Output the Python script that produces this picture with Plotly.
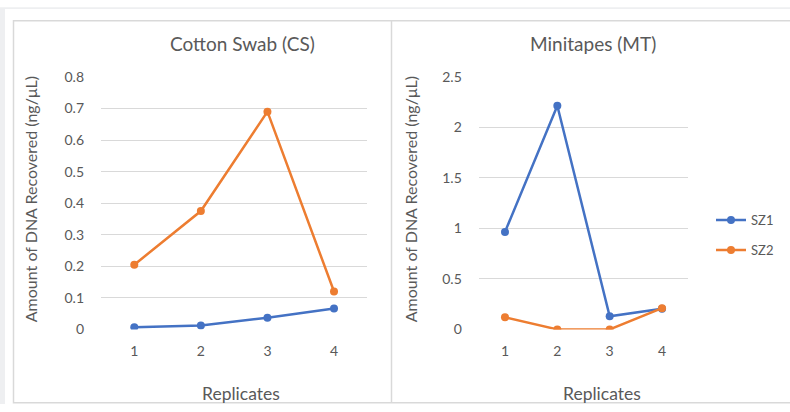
import plotly.graph_objects as go

W, H = 790, 412

replicates = [1, 2, 3, 4]
tick_labels = ["1", "2", "3", "4"]
series_names = ["SZ1", "SZ2"]

cs_sz1 = [0.007, 0.012, 0.037, 0.066]
cs_sz2 = [0.205, 0.375, 0.69, 0.12]
mt_sz1 = [0.965, 2.215, 0.13, 0.205]
mt_sz2 = [0.12, 0.0, 0.0, 0.21]

titles = ["Cotton Swab (CS)", "Minitapes (MT)"]
x_title = "Replicates"
y_title = "Amount of DNA Recovered (ng/μL)"

BLUE = "#4472C4"
ORANGE = "#ED7D31"
TXT = "#595959"
FONT = "Lato"

# the photographed page is slightly compressed vertically; map target pixel rows
V_OFF, V_SCALE = 6.65, 0.9646


def px(x):
    return x / W


def py(y):
    yi = (y - V_OFF) / V_SCALE
    return 1 - yi / H


fig = go.Figure()

for i, (s1, s2) in enumerate([(cs_sz1, cs_sz2), (mt_sz1, mt_sz2)]):
    xa = "x" if i == 0 else "x2"
    ya = "y" if i == 0 else "y2"
    for name, vals, col in [(series_names[0], s1, BLUE), (series_names[1], s2, ORANGE)]:
        fig.add_trace(go.Scatter(
            x=replicates, y=vals, name=name, mode="lines+markers",
            line=dict(color=col, width=2.5), marker=dict(color=col, size=8),
            xaxis=xa, yaxis=ya, showlegend=(i == 1), legendgroup=name,
        ))

axis_common = dict(showline=False, zeroline=False, ticks="",
                   tickfont=dict(family=FONT, size=14, color=TXT))

fig.update_layout(
    width=W, height=H, autosize=False, margin=dict(l=0, r=0, t=0, b=0),
    paper_bgcolor="white", plot_bgcolor="white",
    font=dict(family=FONT, color=TXT),
    xaxis=dict(domain=[px(101), px(367.3)], range=[0.5, 4.5], tickvals=replicates,
               ticktext=tick_labels, showgrid=False, anchor="y", ticklabelstandoff=12, **axis_common),
    yaxis=dict(domain=[py(329), py(75)], range=[0, 0.8], dtick=0.1, tickformat="~g",
               gridcolor="#D9D9D9", gridwidth=1, anchor="x", ticklabelstandoff=16, **axis_common),
    xaxis2=dict(domain=[px(478.8), px(688.2)], range=[0.5, 4.5], tickvals=replicates,
                ticktext=tick_labels, showgrid=False, anchor="y2", ticklabelstandoff=12, **axis_common),
    yaxis2=dict(domain=[py(329), py(75)], range=[0, 2.5], dtick=0.5, tickformat="~g",
                gridcolor="#D9D9D9", gridwidth=1, anchor="x2", ticklabelstandoff=16, **axis_common),
    legend=dict(x=px(711), y=py(204), xanchor="left", yanchor="top",
                font=dict(family=FONT, size=13, color=TXT), bgcolor="rgba(0,0,0,0)",
                tracegroupgap=10, itemwidth=30),
)

# background strips and panel borders
shapes = [
    dict(type="rect", xref="paper", yref="paper", x0=0, x1=1, y0=py(5), y1=1,
         fillcolor="#EEEFF1", line=dict(width=0), layer="below"),
    dict(type="rect", xref="paper", yref="paper", x0=0, x1=px(5), y0=0, y1=1,
         fillcolor="#EEEFF1", line=dict(width=0), layer="below"),
    dict(type="rect", xref="paper", yref="paper", x0=px(13.5), x1=px(795), y0=max(py(406.5), 0.003), y1=py(18.5),
         fillcolor="rgba(0,0,0,0)", line=dict(color="#D9D9D9", width=1.5), layer="below"),
    dict(type="line", xref="paper", yref="paper", x0=px(391.5), x1=px(391.5), y0=max(py(406.5), 0.003), y1=py(18.5),
         line=dict(color="#D9D9D9", width=1.5), layer="below"),
]
fig.update_layout(shapes=shapes)

annotations = [
    dict(text=titles[0], x=px(242), y=py(41), font=dict(family=FONT, size=19, color=TXT)),
    dict(text=titles[1], x=px(593), y=py(41), font=dict(family=FONT, size=19, color=TXT)),
    dict(text=x_title, x=px(241), y=py(393), font=dict(family=FONT, size=17.5, color=TXT)),
    dict(text=x_title, x=px(602), y=py(393), font=dict(family=FONT, size=17.5, color=TXT)),
    dict(text=y_title, x=px(30), y=py(198), textangle=-90, font=dict(family=FONT, size=16, color=TXT)),
    dict(text=y_title, x=px(410), y=py(198), textangle=-90, font=dict(family=FONT, size=16, color=TXT)),
]
for a in annotations:
    a.update(xref="paper", yref="paper", showarrow=False, xanchor="center", yanchor="middle")
fig.update_layout(annotations=annotations)

fig.write_html(
    "out.html",
    config={"displayModeBar": False, "responsive": False},
    post_script="document.documentElement.style.margin='0px';document.body.style.margin='0px';document.body.style.padding='0px';document.body.style.overflow='hidden';",
)
